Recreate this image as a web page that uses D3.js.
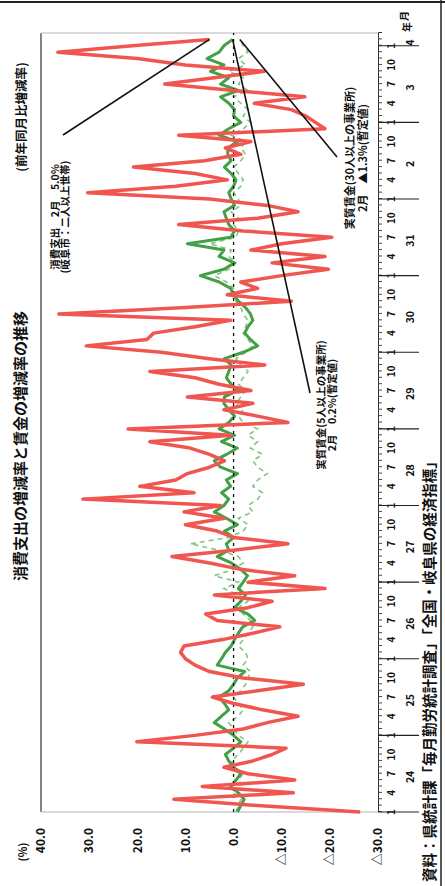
<!DOCTYPE html>
<html><head><meta charset="utf-8">
<script src="https://cdn.jsdelivr.net/npm/d3@7"></script>
<style>
html,body{margin:0;padding:0;background:#fff;}
svg{display:block;}
text{font-family:"Noto Sans CJK JP","Noto Sans",sans-serif;font-weight:bold;fill:#111;}
</style></head>
<body>
<script>
// ---- data (monthly, Jan 2012 .. Feb 2022) ----
const startYear = 2012;
const yearLabels = ["24","25","26","27","28","29","30","31","2","3","4"];
const monthLabels = ["1","4","7","10"];
const valueTicks = [40,30,20,10,0,-10,-20,-30];

// 消費支出 (岐阜市・二人以上世帯) 前年同月比 %
const consumption = [
-26.3,-5,12.4,-12.4,6.5,-12.7,-3,2,-4,-8,-10.9,20.1,
8,-2,-7,-13.4,-6,0,4.4,-5,-14.5,-2,5,8,
10,11,10.3,2.3,-4,-9.6,3.4,5.8,-3,-8,4,-19,
-3,-12.7,-1.5,5,12.8,0,-11.3,0,3.4,10,1.9,10.3,
2.7,31.3,8.2,19.5,12,9.6,5,1.9,5,9,17.4,0.6,
21.9,-11.3,-5,2,-4,9.6,-3.6,3,8,17.4,-6.5,5,
15,30.6,18,16.6,8,0.6,36.3,10,-12,1.3,-5,-1.5,
-10,-19.7,-8,-19,-3.6,-10,-20.4,-2,11.4,-5,-13.4,-7,
5,30.3,12,1.3,8,20.8,6,-1.5,1.7,-3.6,11.4,-19,
-17,-15,-12,-4.3,-14.8,0,14.3,4,-6.4,10,20,36.5,
21,5.0];

// 実質賃金 (5人以上の事業所)
const wage5 = [
-0.8,-1.5,-2.2,-1,0.6,-0.5,-1.5,0,1,1.7,0,-1.5,
0,1.9,4,2.5,1,1.9,3,1,0,-0.8,-2.3,3.4,
2.5,1.7,0.5,-0.2,-1,-1.9,-4.4,-3,-0.2,-1.5,-2.5,-1,
-2,-2.9,-1.5,0.5,3.4,1,1.5,0,1.9,-0.8,1.5,4,
2,1,2.5,0.6,1.5,-0.8,2.7,4,1.5,-0.8,2.5,-0.2,
3,1,-0.2,1,2,1.9,-0.8,0.5,1.5,1,0.5,1.9,
-2,-5,-3.5,-2.3,-3,-4,-3.5,-2.5,-1,0,0.6,3,
6.9,2,-0.2,3,2,9.6,0.6,-0.2,1,1.5,2,-0.2,
0.5,1,0,-0.5,0.5,1.9,0.5,1.2,1.2,-0.8,3,1,
-1.5,0,-0.2,1,2.7,-1,2.7,1,4.8,2,5.5,3,
2,0.2];

// 実質賃金 (30人以上の事業所)
const wage30 = [
-0.5,-1,-1.5,0,-2,-1,-2,-0.5,0.5,-1,-2,-3,
-1,0,1,-1,-2,-1,0,-1.5,-2.5,-3,-3.5,-2,
-3,-2.5,-1,-2,-3,-4,-3.5,-2,-1,-3,-1,2,
-1,4,0,-2,-1,3,9,1,-2,-3,-1,-4,
-3,-5,-6,-4,-5,-7,-5,-4,-6,-3.5,-5,-3,
-5,-2,-1,-2,-0.5,-1.5,-2.5,-1,-2,-3,-1.5,-0.5,
-2.5,-4,-3,-2,-2.5,-3,-2,-1.5,-0.5,0.5,0,1.5,
4,1,-0.5,1,0.5,5,-0.5,-1,0,-1,0.5,-1.5,
-1,0,-1.5,-2,-1,0,-1.5,-2.5,-1.5,-2.5,0.5,-2,
-3.5,-2,-3,-1.5,0,-3,-1,-2,1,-2.5,-1,-3,
-2,-1.3];

// ---- drawing ----
const W = 445, H = 886;
const svg = d3.select("body").append("svg").attr("width", W).attr("height", H);

// outer frame (screen coords)
svg.append("line").attr("x1",0).attr("x2",W).attr("y1",2).attr("y2",2).attr("stroke","#222").attr("stroke-width",2);
svg.append("line").attr("x1",441).attr("x2",441).attr("y1",0).attr("y2",H).attr("stroke","#222").attr("stroke-width",1.5);

// rotated chart group: u = horizontal (time), v = vertical (value)
const g = svg.append("g").attr("transform", `translate(0,${H}) rotate(-90)`);

const nMonths = consumption.length;
const xT = d3.scaleLinear().domain([0,122]).range([74,853]);
const yV = d3.scaleLinear().domain([-30,40]).range([378,41]);

// plot frame
g.append("line").attr("x1",xT(0)).attr("x2",xT(122)).attr("y1",yV(40)).attr("y2",yV(40)).attr("stroke","#333").attr("stroke-width",1.2);
g.append("line").attr("x1",xT(0)).attr("x2",xT(0)).attr("y1",yV(40)).attr("y2",yV(-30)).attr("stroke","#ccc").attr("stroke-width",1.5);
g.append("line").attr("x1",xT(122)).attr("x2",xT(122)).attr("y1",yV(40)).attr("y2",yV(-30)).attr("stroke","#ccc").attr("stroke-width",1.5);

// value axis labels
const fmt = v => v < 0 ? "△" + Math.abs(v).toFixed(1) : v.toFixed(1);
const yAxis = g.append("g").attr("transform",`translate(${xT(0)},0)`)
  .call(d3.axisLeft(yV).tickValues(valueTicks).tickSize(0).tickPadding(16).tickFormat(fmt));
yAxis.select(".domain").remove();
yAxis.selectAll("text").style("font-size","12px").style("font-family",'"Noto Sans CJK JP",sans-serif').style("font-weight","bold");

// time axis with monthly ticks
const months = d3.range(0, 122);
const xAxis = g.append("g").attr("transform",`translate(0,${yV(-30)})`)
  .call(d3.axisBottom(xT).tickValues(months).tickSize(4).tickFormat(""));
xAxis.select(".domain").attr("stroke","#333");
xAxis.selectAll(".tick line").attr("stroke","#444");

// month labels
const mlab = months.filter(m => m % 3 === 0);
g.append("g").selectAll("text").data(mlab).join("text")
  .attr("x", m => xT(m)).attr("y", 390)
  .attr("text-anchor","middle").attr("dominant-baseline","central")
  .style("font-size","10px")
  .text(m => monthLabels[(m % 12) / 3]);

// year separators
const yb = d3.range(0, 11).map(k => k * 12);
g.append("g").selectAll("line").data(yb).join("line")
  .attr("x1", m => xT(m)).attr("x2", m => xT(m))
  .attr("y1", yV(-30)).attr("y2", 419)
  .attr("stroke","#222").attr("stroke-width",1.2);

// year labels
g.append("g").selectAll("text").data(yearLabels).join("text")
  .attr("x", (d,i) => i < 10 ? xT(i*12 + 5.5) : xT(120.5))
  .attr("y", 409)
  .attr("text-anchor","middle").attr("dominant-baseline","central")
  .style("font-size","10.5px")
  .text(d => d);

// series
const line = arr => d3.line().x((d,i) => xT(i)).y(d => yV(d))(arr);

g.append("path").attr("d", line(wage30)).attr("fill","none")
  .attr("stroke","#6cbb6c").attr("stroke-width",1.6).attr("stroke-dasharray","5,4").attr("opacity",0.85);
g.append("path").attr("d", line(wage5)).attr("fill","none")
  .attr("stroke","#43a046").attr("stroke-width",3).attr("stroke-linejoin","round");
g.append("line").attr("x1",xT(0)).attr("x2",xT(122)).attr("y1",yV(0)).attr("y2",yV(0))
  .attr("stroke","#111").attr("stroke-width",1.3).attr("stroke-dasharray","3,4");
g.append("path").attr("d", line(consumption)).attr("fill","none")
  .attr("stroke","#f0564f").attr("stroke-width",3.5).attr("stroke-linejoin","round");

// titles
g.append("text").attr("x",440).attr("y",19).attr("text-anchor","middle").attr("dominant-baseline","central")
  .style("font-size","15px").text("消費支出の増減率と賃金の増減率の推移");
g.append("text").attr("x",769).attr("y",20).attr("text-anchor","middle").attr("dominant-baseline","central")
  .style("font-size","12.5px").text("(前年同月比増減率)");
g.append("text").attr("x",34).attr("y",22).attr("text-anchor","middle").attr("dominant-baseline","central")
  .style("font-size","11px").text("(%)");
g.append("text").attr("x",4).attr("y",428).attr("text-anchor","start").attr("dominant-baseline","central")
  .style("font-size","14.5px").text("資料：県統計課「毎月勤労統計調査」「全国・岐阜県の経済指標」");

// annotations
const last = nMonths - 1;
function annot(val, ex, ey, lines, cu, vs, fs) {
  g.append("line").attr("x1", xT(last)).attr("y1", yV(val)).attr("x2", ex).attr("y2", ey)
    .attr("stroke","#111").attr("stroke-width",1.6);
  lines.forEach((t,i) => {
    g.append("text").attr("x", cu).attr("y", vs[i]).attr("text-anchor","middle").attr("dominant-baseline","central")
      .style("font-size", fs).text(t);
  });
}
annot(consumption[last], H-135, 63, ["消費支出　2月　5.0%","(岐阜市：二人以上世帯)"], 669, [54,64], "10.5px");
annot(wage5[last], H-393, 310, ["実質賃金(5人以上の事業所)","2月　0.2%(暫定値)"], 481, [320,331], "10.5px");
annot(wage30[last], H-157, 337, ["実質賃金(30人以上の事業所)","2月　▲1.3%(暫定値)"], 728, [349,362], "11px");

// header 月 / 年
svg.append("text").attr("transform","translate(403,16) rotate(-90)").attr("text-anchor","middle").attr("dominant-baseline","central")
  .style("font-size","10px").text("月");
svg.append("text").attr("transform","translate(406,27) rotate(-90)").attr("text-anchor","middle").attr("dominant-baseline","central")
  .style("font-size","10px").text("年");
</script>
</body></html>
